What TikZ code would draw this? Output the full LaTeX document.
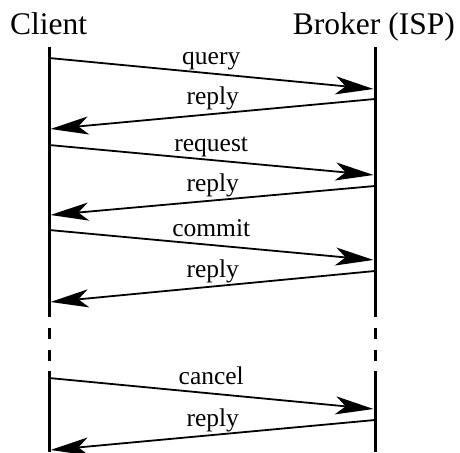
\documentclass[tikz,border=0pt]{standalone}
\usepackage{fontspec}
\setmainfont{Liberation Serif}
\usetikzlibrary{arrows.meta}

\tikzset{
  lifeline/.style={line width=3pt},
  lifegap/.style={line width=3pt, dash pattern=on 11pt off 11pt},
  msg/.style={line width=1.8pt,
    -{Stealth[length=38pt, width=18pt, inset=10pt]}},
  head/.style={inner sep=0pt, font=\fontsize{31.5}{36}\selectfont},
  msglabel/.style={inner sep=0pt, anchor=base, yshift=9pt,
    font=\fontsize{25.5}{30}\selectfont},
}

\begin{document}
\begin{tikzpicture}[x=1pt, y=-1pt]
  \useasboundingbox (0,0) rectangle (460,452);

  % participants
  \node[head, anchor=base west] (client) at (10,35) {Client};
  \node[head, anchor=base east] (broker) at (455,35) {Broker (ISP)};

  % lifelines with a dashed break
  \coordinate (cTop) at (49,47);
  \coordinate (cBrk) at (49,317);
  \coordinate (cRes) at (49,371);
  \coordinate (cBot) at (49,452);
  \coordinate (bTop) at (375,47);
  \coordinate (bBrk) at (375,317);
  \coordinate (bRes) at (375,371);
  \coordinate (bBot) at (375,452);
  \draw[lifeline] (cTop) -- (cBrk) (cRes) -- (cBot);
  \draw[lifeline] (bTop) -- (bBrk) (bRes) -- (bBot);
  \draw[lifegap] ([yshift=11pt]cBrk) -- (cRes);
  \draw[lifegap] ([yshift=11pt]bBrk) -- (bRes);

  % message end points (client side at x=50.5, broker side at x=373.5)
  \coordinate (q0) at (49,58);    \coordinate (q1) at (373.5,89);
  \coordinate (r10) at (375,99);  \coordinate (r11) at (50.5,129);
  \coordinate (s0) at (49,145);   \coordinate (s1) at (373.5,175);
  \coordinate (r20) at (375,186); \coordinate (r21) at (50.5,215);
  \coordinate (m0) at (49,230);   \coordinate (m1) at (373.5,260);
  \coordinate (r30) at (375,271); \coordinate (r31) at (50.5,302);
  \coordinate (k0) at (49,378);   \coordinate (k1) at (373.5,409);
  \coordinate (r40) at (375,420); \coordinate (r41) at (50.5,450);

  \draw[msg] (q0) -- (q1)   node[msglabel, pos=0.5] (lq) {query};
  \draw[msg] (r10) -- (r11) node[msglabel, pos=0.5, yshift=1pt] (lr1) {reply};
  \draw[msg] (s0) -- (s1)   node[msglabel, pos=0.5] (ls) {request};
  \draw[msg] (r20) -- (r21) node[msglabel, pos=0.5] (lr2) {reply};
  \draw[msg] (m0) -- (m1)   node[msglabel, pos=0.5] (lm) {commit};
  \draw[msg] (r30) -- (r31) node[msglabel, pos=0.5] (lr3) {reply};
  \draw[msg] (k0) -- (k1)   node[msglabel, pos=0.5] (lk) {cancel};
  \draw[msg] (r40) -- (r41) node[msglabel, pos=0.5] (lr4) {reply};
\end{tikzpicture}
\end{document}
